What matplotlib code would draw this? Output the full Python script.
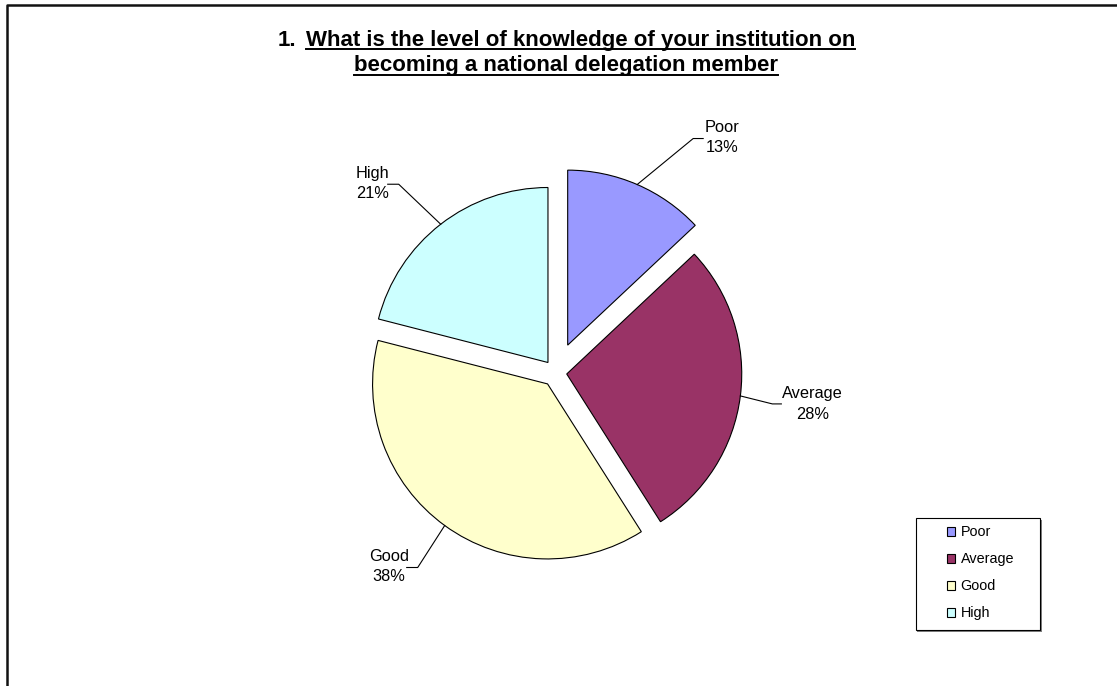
import matplotlib
matplotlib.use("Agg")
import matplotlib.pyplot as plt
from matplotlib.lines import Line2D
from matplotlib.patches import Rectangle
import numpy as np

plt.rcParams["font.family"] = ["Liberation Sans", "DejaVu Sans"]

# survey answers
levels = ["Poor", "Average", "Good", "High"]
shares = [13, 28, 38, 21]
colors = ["#9999FF", "#993366", "#FFFFCC", "#CCFFFF"]

title_1 = "What is the level of knowledge of your institution on"
title_2 = "becoming a national delegation member"

W, H = 1117, 686
fig = plt.figure(figsize=(W / 100, H / 100), dpi=100)
fig.patch.set_facecolor("white")


def fx(px):
    return px / W


def fy(py):
    # py counted from the top edge
    return (H - py) / H


# outer frame (left and top edges only, rest is cut off)
fig.add_artist(Line2D([fx(7), fx(7), fx(W + 5)], [fy(H + 5), fy(5), fy(5)],
                      color="#111111", lw=1.8, transform=fig.transFigure))

# pie axes: square, 175 px per data unit
R_PX = 175.0
cx, cy = 555.8, 372.6
half = 250.0
ax = fig.add_axes([fx(cx - half), fy(cy + half), 2 * half / W, 2 * half / H])

explode = [0.171, 0.063, 0.08, 0.073]
wedges, _ = ax.pie(shares, colors=colors, explode=explode, startangle=90,
                   counterclock=False, radius=1.0,
                   wedgeprops=dict(edgecolor="black", linewidth=0.8))
# pie() resets the limits, so set them afterwards
ax.set_xlim(-half / R_PX, half / R_PX)
ax.set_ylim(-half / R_PX, half / R_PX)
ax.set_aspect("equal")
ax.axis("off")

# leader lines and labels, offsets in pixels from the wedge edge
offsets = {
    "Poor": [(56, 46), (66, 46), (85, 47)],
    "Average": [(32, -8), (41, -8), (72, -8)],
    "Good": [(-27, -42), (-38, -42), (-56, -41)],
    "High": [(-42, 40), (-53, 40), (-68, 41)],
}

fig.canvas.draw()
to_fig = fig.transFigure.inverted()
for w, name, val in zip(wedges, levels, shares):
    th = np.deg2rad((w.theta1 + w.theta2) / 2)
    ex = w.center[0] + w.r * np.cos(th)
    ey = w.center[1] + w.r * np.sin(th)
    p0 = ax.transData.transform((ex, ey))
    elbow, end, txt = offsets[name]
    pts = [p0, p0 + np.array(elbow), p0 + np.array(end)]
    pts = to_fig.transform(np.array(pts))
    fig.add_artist(Line2D(pts[:, 0], pts[:, 1], color="black", lw=0.8,
                          transform=fig.transFigure))
    tp = to_fig.transform(p0 + np.array(txt))
    fig.text(tp[0], tp[1], f"{name}\n{val}%", ha="center", va="center",
             multialignment="center", fontsize=11.8, linespacing=1.45)

# title with underline
renderer = fig.canvas.get_renderer()
fig.text(fx(278), fy(46), "1.", fontsize=16, fontweight="bold",
         ha="left", va="baseline")
t1 = fig.text(fx(306), fy(46), title_1, fontsize=16, fontweight="bold",
              ha="left", va="baseline")
t2 = fig.text(fx(566), fy(71), title_2, fontsize=16, fontweight="bold",
              ha="center", va="baseline")
for t, uy in [(t1, 49), (t2, 75)]:
    bb = t.get_window_extent(renderer)
    fig.add_artist(Line2D([bb.x0 / W, bb.x1 / W], [fy(uy), fy(uy)],
                          color="black", lw=1.4, transform=fig.transFigure))

# legend box with a small shadow
bx0, by0, bx1, by1 = 915.7, 518.3, 1040, 630
fig.add_artist(Rectangle((fx(bx0 + 1.5), fy(by1 + 1.5)), (bx1 - bx0) / W,
                         (by1 - by0) / H, transform=fig.transFigure,
                         facecolor="#808080", edgecolor="none", zorder=1))
fig.add_artist(Rectangle((fx(bx0), fy(by1)), (bx1 - bx0) / W,
                         (by1 - by0) / H, transform=fig.transFigure,
                         facecolor="white", edgecolor="black", lw=0.8,
                         zorder=2))
leg = fig.legend(wedges, levels, loc="upper left",
                 bbox_to_anchor=(fx(947), fy(525.5)), frameon=False,
                 fontsize=10.4, handlelength=0.55, handleheight=0.55,
                 handletextpad=0.4, labelspacing=0.9, borderpad=0,
                 borderaxespad=0)
leg.set_zorder(3)

fig.savefig("out.png", dpi=100, facecolor="white")
